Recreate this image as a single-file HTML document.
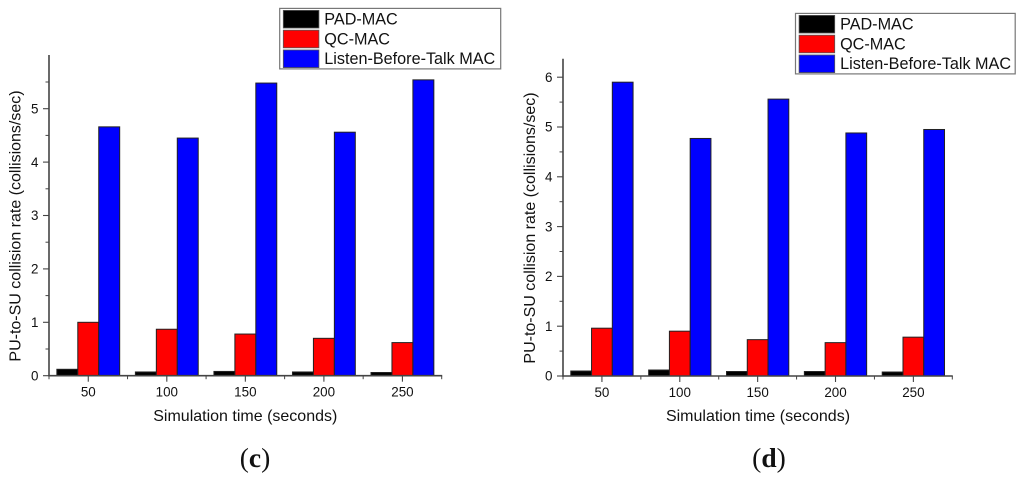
<!DOCTYPE html>
<html lang="en">
<head>
<meta charset="utf-8">
<title>PU-to-SU collision rate charts</title>
<style>
html,body{margin:0;padding:0;background:#fff;width:1024px;height:480px;overflow:hidden}
svg{display:block;filter:blur(0.35px)}
text{font-family:"Liberation Sans",sans-serif;fill:#111}
.cap{font-family:"Liberation Serif",serif;fill:#111}
</style>
</head>
<body>
<svg id="root" xmlns="http://www.w3.org/2000/svg" width="1024" height="480" viewBox="0 0 1024 480"></svg>
<script>
const categories = ['50', '100', '150', '200', '250'];
const seriesNames = ['PAD-MAC', 'QC-MAC', 'Listen-Before-Talk MAC'];
const seriesColors = ['#000000', '#ff0000', '#0000ff'];

const padMacC = [0.12, 0.07, 0.08, 0.07, 0.06];
const qcMacC = [1.00, 0.87, 0.78, 0.70, 0.62];
const lbtMacC = [4.66, 4.45, 5.48, 4.56, 5.54];
const yTicksC = [0, 1, 2, 3, 4, 5];

const padMacD = [0.10, 0.12, 0.09, 0.09, 0.08];
const qcMacD = [0.96, 0.90, 0.73, 0.67, 0.78];
const lbtMacD = [5.90, 4.77, 5.56, 4.88, 4.95];
const yTicksD = [0, 1, 2, 3, 4, 5, 6];

const root = document.getElementById('root');
const NS = 'http://www.w3.org/2000/svg';

function mk(tag, attrs, text) {
  const el = document.createElementNS(NS, tag);
  for (const k in attrs) el.setAttribute(k, attrs[k]);
  if (text !== undefined) el.textContent = text;
  return el;
}

function drawPanel(p) {
  const g = mk('g', {});
  
  
  root.appendChild(g);

  const catW = (p.x1 - p.x0) / categories.length;
  const xCat = function (i) { return p.x0 + catW * i; };
  const yVal = function (v) { return p.y0 - v * p.unit; };
  const barW = catW * 0.8 / 3;

  // bars
  p.series.forEach(function (vals, s) {
    vals.forEach(function (v, i) {
      const top = yVal(v);
      const bar = mk('rect', {
        x: xCat(i) + catW * 0.1 + barW * s,
        y: top,
        width: barW,
        height: p.y0 - top,
        fill: seriesColors[s],
        stroke: '#222',
        'stroke-width': 1
      });
      
      
      g.appendChild(bar);
    });
  });

  // axes
  const axisColor = '#444';
  const yAxis = mk('line', { x1: p.x0, x2: p.x0, y1: p.yTop, y2: p.y0 + 0.7, stroke: axisColor, 'stroke-width': 1.6 });
  
  
  g.appendChild(yAxis);
  const xAxis = mk('line', { x1: p.x0 - 0.7, x2: p.x1 + 0.5, y1: p.y0, y2: p.y0, stroke: axisColor, 'stroke-width': 1.6 });
  
  
  g.appendChild(xAxis);

  // y ticks
  p.yTicks.forEach(function (t) {
    const y = yVal(t);
    const tick = mk('line', { x1: p.x0 - 6, x2: p.x0, y1: y, y2: y, stroke: axisColor, 'stroke-width': 1.1 });
    
    
    g.appendChild(tick);
    const label = mk('text', { x: p.x0 - 10.5, y: y + 4.7, 'font-size': 13.4, 'text-anchor': 'end' }, String(t));
    
    
    g.appendChild(label);
    const my = yVal(t + 0.5);
    if (my > p.yTop + 2) {
      const minor = mk('line', { x1: p.x0 - 3.5, x2: p.x0, y1: my, y2: my, stroke: axisColor, 'stroke-width': 1 });
      
      
      g.appendChild(minor);
    }
  });

  // x ticks
  categories.forEach(function (c, i) {
    const cx = xCat(i) + catW / 2;
    const tick = mk('line', { x1: cx, x2: cx, y1: p.y0, y2: p.y0 + 6, stroke: axisColor, 'stroke-width': 1.1 });
    
    
    g.appendChild(tick);
    const label = mk('text', { x: cx, y: p.y0 + 21, 'font-size': 13.4, 'text-anchor': 'middle' }, c);
    
    
    g.appendChild(label);
  });
  for (let i = 0; i <= categories.length; i++) {
    const bx = xCat(i);
    const minor = mk('line', { x1: bx, x2: bx, y1: p.y0, y2: p.y0 + 3.5, stroke: axisColor, 'stroke-width': 1 });
    
    
    g.appendChild(minor);
  }

  // titles
  const xTitle = mk('text', { x: p.xTitleX, y: 421, 'font-size': 16, 'text-anchor': 'middle' }, 'Simulation time (seconds)');
  
  
  g.appendChild(xTitle);
  const yTitle = mk('text', {
    transform: 'translate(' + p.yTitleX + ' ' + p.yTitleY + ') rotate(-90)',
    'font-size': 16,
    'text-anchor': 'middle'
  }, 'PU-to-SU collision rate (collisions/sec)');
  
  
  g.appendChild(yTitle);

  // caption
  const cap = mk('text', { class: 'cap', x: p.capX, y: 467, 'font-size': 27.5, 'text-anchor': 'middle' });
  cap.appendChild(mk('tspan', {}, '('));
  cap.appendChild(mk('tspan', { 'font-weight': 'bold' }, p.id));
  cap.appendChild(mk('tspan', {}, ')'));
  
  
  g.appendChild(cap);

  // legend
  const lg = mk('g', {});
  
  
  g.appendChild(lg);
  lg.appendChild(mk('rect', { x: p.lx, y: p.ly, width: p.lw, height: 60.5, fill: '#fff', stroke: '#777', 'stroke-width': 1.2 }));
  seriesNames.forEach(function (name, s) {
    const sy = p.ly + 2 + s * 19.8;
    const swatch = mk('rect', { x: p.lx + 3.6, y: sy, width: 35.6, height: 17.6, fill: seriesColors[s], stroke: '#555', 'stroke-width': 0.8 });
    
    
    lg.appendChild(swatch);
    const t = mk('text', { x: p.lx + 44.6, y: p.ly + 16.2 + s * 19.7, 'font-size': 16.2 }, name);
    
    
    lg.appendChild(t);
  });
}

drawPanel({
  id: 'c', x0: 49, x1: 441.7, y0: 375.7, yTop: 55, unit: 53.4,
  series: [padMacC, qcMacC, lbtMacC], yTicks: yTicksC,
  xTitleX: 245.3, yTitleX: 20.5, yTitleY: 226, capX: 255, lx: 279.7, ly: 8.4, lw: 221
});
drawPanel({
  id: 'd', x0: 563, x1: 952.3, y0: 376, yTop: 58.7, unit: 49.8,
  series: [padMacD, qcMacD, lbtMacD], yTicks: yTicksD,
  xTitleX: 758, yTitleX: 535, yTitleY: 228, capX: 769, lx: 795.5, ly: 13.4, lw: 219.7
});
</script>
</body>
</html>
